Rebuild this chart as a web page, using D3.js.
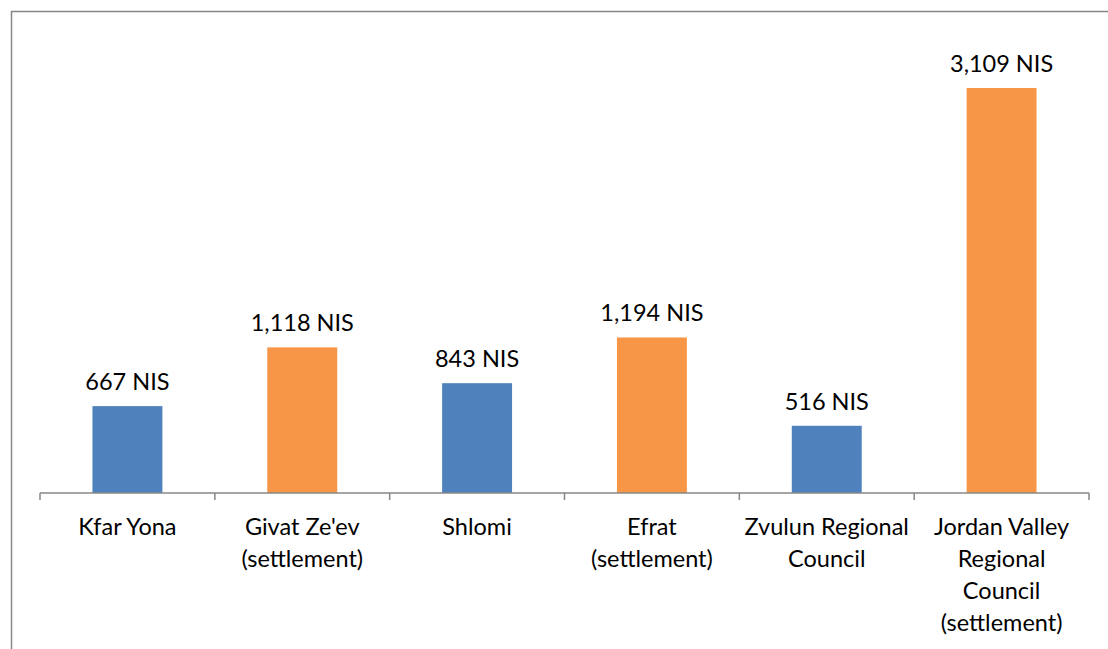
<!DOCTYPE html>
<html>
<head>
<meta charset="utf-8">
<script src="https://cdn.jsdelivr.net/npm/d3@7"></script>
<style>
  body { margin: 0; background: #fff; }
  svg text { font-family: Lato, "Open Sans", sans-serif; fill: #000; }
</style>
</head>
<body>
<script>
// chart data
var places = ["Kfar Yona", "Givat Ze'ev (settlement)", "Shlomi", "Efrat (settlement)",
              "Zvulun Regional Council", "Jordan Valley Regional Council (settlement)"];
var placeLines = [["Kfar Yona"], ["Givat Ze'ev", "(settlement)"], ["Shlomi"],
                  ["Efrat", "(settlement)"], ["Zvulun Regional", "Council"],
                  ["Jordan Valley", "Regional", "Council", "(settlement)"]];
var amounts = [667, 1118, 843, 1194, 516, 3109];
var isSettlement = [false, true, false, true, false, true];

var width = 1108, height = 649;

var svg = d3.select("body").append("svg")
    .attr("width", width)
    .attr("height", height);

// frame (only left + top are visible in the crop)
svg.append("path")
    .attr("d", "M11.5," + height + "V11.5H" + width)
    .attr("fill", "none")
    .attr("stroke", "#878787")
    .attr("stroke-width", 1.5);

var x = d3.scaleBand()
    .domain(places)
    .range([40, 1089])
    .paddingInner(0.6)
    .paddingOuter(0.3);

var y = d3.scaleLinear()
    .domain([0, 3109])
    .range([493, 88]);

var g = svg.append("g");

g.selectAll("rect.bar")
    .data(amounts)
    .enter()
    .append("rect")
    .attr("class", "bar")
    .attr("x", function(d, i) { return x(places[i]); })
    .attr("y", function(d) { return y(d); })
    .attr("width", x.bandwidth())
    .attr("height", function(d) { return y(0) - y(d); })
    .attr("fill", function(d, i) { return isSettlement[i] ? "#F79646" : "#4F81BD"; });

// value labels
g.selectAll("text.val")
    .data(amounts)
    .enter()
    .append("text")
    .attr("class", "val")
    .attr("x", function(d, i) { return x(places[i]) + x.bandwidth() / 2; })
    .attr("y", function(d) { return y(d) - 16; })
    .attr("text-anchor", "middle")
    .style("font-size", "23.5px")
    .text(function(d) { return d3.format(",")(d) + " NIS"; });

// x axis: ticks between categories
var axisY = 493;
var step = (1089 - 40) / places.length;
svg.append("line")
    .attr("x1", 40).attr("x2", 1089)
    .attr("y1", axisY).attr("y2", axisY)
    .attr("stroke", "#878787").attr("stroke-width", 1.5);

svg.selectAll("line.tick")
    .data(d3.range(places.length + 1))
    .enter()
    .append("line")
    .attr("class", "tick")
    .attr("x1", function(d) { return 40 + d * step; })
    .attr("x2", function(d) { return 40 + d * step; })
    .attr("y1", axisY).attr("y2", axisY + 7)
    .attr("stroke", "#878787").attr("stroke-width", 1.5);

var cat = svg.selectAll("text.cat")
    .data(places)
    .enter()
    .append("text")
    .attr("class", "cat")
    .attr("text-anchor", "middle")
    .attr("x", function(d) { return x(d) + x.bandwidth() / 2; })
    .attr("y", 535)
    .style("font-size", "23.5px");

cat.selectAll("tspan")
    .data(function(d, i) { return placeLines[i]; })
    .enter()
    .append("tspan")
    .attr("x", function() { var p = this.parentNode; return p.getAttribute("x"); })
    .attr("dy", function(d, i) { return i === 0 ? 0 : 32; })
    .text(function(d) { return d; });
</script>
</body>
</html>
